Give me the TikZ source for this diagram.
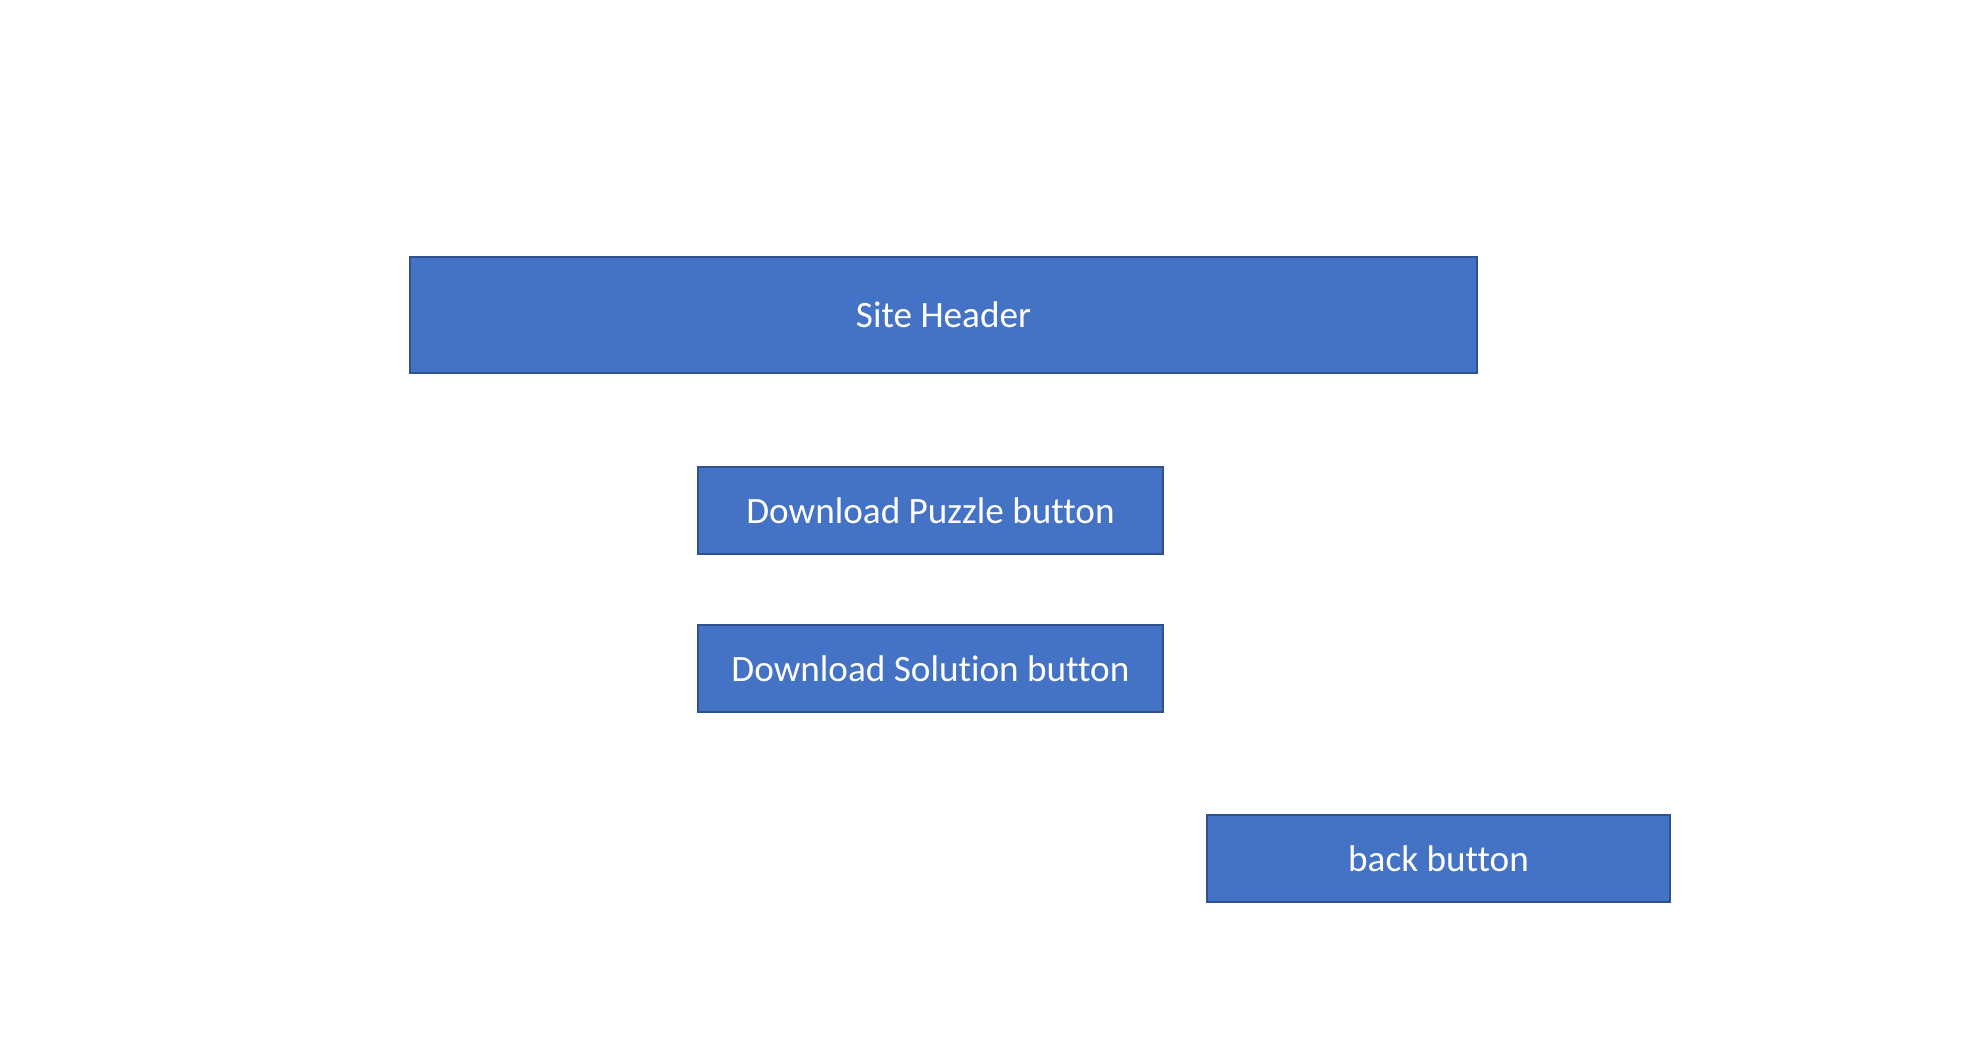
\documentclass[tikz,border=0pt]{standalone}
\usepackage{fontspec}
\setmainfont{Carlito}[Ligatures={NoCommon}]
\definecolor{boxfill}{HTML}{4472C4}
\definecolor{boxline}{HTML}{2F528F}
\begin{document}
\begin{tikzpicture}[x=0.5pt,y=-0.5pt,
  uibox/.style={draw=boxline,fill=boxfill,line width=0.7pt,
    rectangle,inner sep=0pt,outer sep=0pt,text=white,
    font=\fontsize{18.6}{22}\selectfont},
  btn/.style={uibox,minimum width=232.5pt,minimum height=43.5pt}]
\useasboundingbox[fill=white] (0,0) rectangle (1984,1064);
\node[uibox,minimum width=533.5pt,minimum height=58pt] (header) at (943.5,315) {Site Header};
\node[btn] (puzzle) at (930.5,510.5) {\raisebox{-0.6pt}{Download Puzzle button}};
\node[btn] (solution) at (930.5,668.5) {\raisebox{-0.6pt}{Download Solution button}};
\node[btn,minimum width=231.5pt] (back) at (1438.5,858.5) {\raisebox{-0.6pt}{back button}};
\end{tikzpicture}
\end{document}
